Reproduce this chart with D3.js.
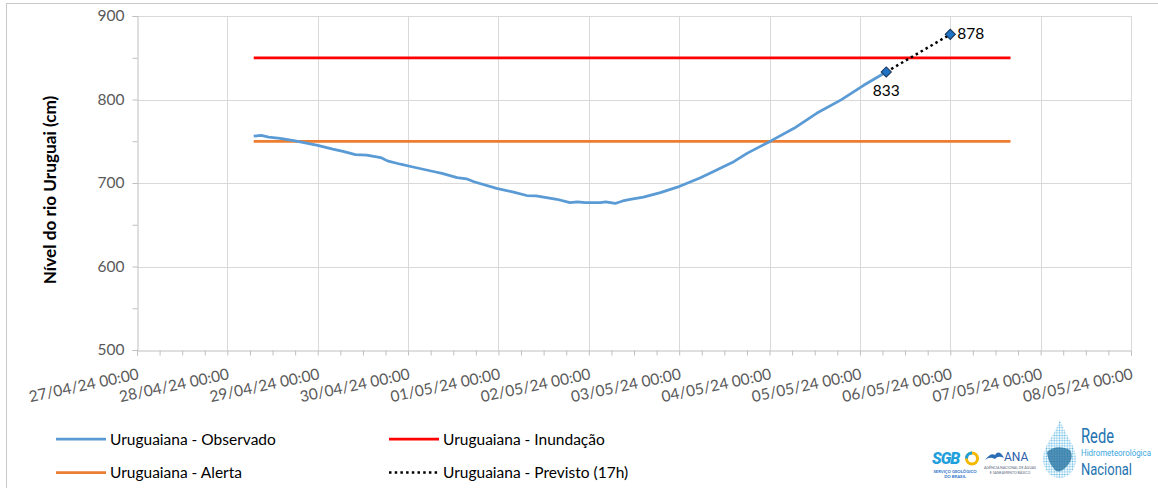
<!DOCTYPE html>
<html><head><meta charset="utf-8">
<script src="https://cdn.jsdelivr.net/npm/d3@7"></script>
<style>
html,body{margin:0;padding:0;background:#fff;}
svg{display:block;font-family:Lato,"Open Sans",sans-serif;}
</style></head>
<body>
<svg id="chart" width="1158" height="488"></svg>
<script>
// ---------- DATA ----------
const tickLabels = ["27/04/24 00:00","28/04/24 00:00","29/04/24 00:00","30/04/24 00:00","01/05/24 00:00","02/05/24 00:00","03/05/24 00:00","04/05/24 00:00","05/05/24 00:00","06/05/24 00:00","07/05/24 00:00","08/05/24 00:00"];
const yTicks = [500,600,700,800,900];
const yMinorTicks = [550,650,750,850];

const obsTimes = ["28/04/24 07:00","28/04/24 09:00","28/04/24 11:00","28/04/24 14:00","28/04/24 18:00","29/04/24 00:00","29/04/24 04:00","29/04/24 07:00","29/04/24 10:00","29/04/24 13:00","29/04/24 16:00","29/04/24 17:00","29/04/24 18:30","29/04/24 22:00","30/04/24 01:00","30/04/24 07:00","30/04/24 09:00","30/04/24 13:00","30/04/24 15:30","30/04/24 17:30","30/04/24 23:30","01/05/24 04:00","01/05/24 07:30","01/05/24 10:00","01/05/24 15:30","01/05/24 19:00","01/05/24 21:00","01/05/24 23:00","02/05/24 03:00","02/05/24 04:30","02/05/24 07:00","02/05/24 09:00","02/05/24 11:00","02/05/24 14:30","02/05/24 19:00","02/05/24 23:30","03/05/24 05:30","03/05/24 09:00","03/05/24 12:00","03/05/24 14:30","03/05/24 18:00","04/05/24 00:00","04/05/24 06:30","04/05/24 12:30","04/05/24 19:00","05/05/24 01:00","05/05/24 07:00"];
const obsValues = [756,757,755,753.5,750.5,745,740.5,737.5,734,733.5,731,730,726.5,722.5,719.5,713.5,711.5,706.5,705,701.5,693.5,689,685,684.5,680.5,676.5,677.5,676.5,676.5,677.5,675.5,678.5,680.5,683,688.5,695,706,713.5,720,725.5,735.5,749.5,765.5,783.5,799.5,817,833];

const forecastTimes = ["05/05/24 07:00","06/05/24 00:00"];
const forecastValues = [833,878];

const thresholdTimes = ["28/04/24 07:00","06/05/24 16:00"];
const alertValue = 750;
const floodValue = 850;

const seriesNames = ["Uruguaiana - Observado","Uruguaiana - Inundação","Uruguaiana - Alerta","Uruguaiana - Previsto (17h)"];
const yTitle = "Nível do rio Uruguai (cm)";

// ---------- SETUP ----------
const parse = d3.utcParse("%d/%m/%y %H:%M");
const svg = d3.select("#chart");
const L = 137, R = 1131, T = 16, B = 350;

const x = d3.scaleUtc().domain([parse(tickLabels[0]), parse(tickLabels[tickLabels.length-1])]).range([L, R]);
const y = d3.scaleLinear().domain([500, 900]).range([B, T]);

// outer border
svg.append("rect").attr("x",6.5).attr("y",3.5).attr("width",1200).attr("height",600)
  .attr("fill","none").attr("stroke","#c8c8c8").attr("stroke-width",1);

// gridlines
const dayDates = tickLabels.map(parse);
svg.append("g").selectAll("line").data(dayDates.slice(1)).join("line")
  .attr("x1",d=>Math.round(x(d))+0.5).attr("x2",d=>Math.round(x(d))+0.5)
  .attr("y1",T).attr("y2",B).attr("stroke","#d9d9d9").attr("stroke-width",1);
svg.append("g").selectAll("line").data(yTicks.slice(1)).join("line")
  .attr("x1",L).attr("x2",R)
  .attr("y1",d=>Math.round(y(d))+0.5).attr("y2",d=>Math.round(y(d))+0.5)
  .attr("stroke","#d9d9d9").attr("stroke-width",1);

// y axis
const yAxis = d3.axisLeft(y).tickValues(yTicks).tickSize(5).tickPadding(8);
const gy = svg.append("g").attr("transform",`translate(${L+0.5},0)`).call(yAxis);
gy.select(".domain").attr("stroke","#bfbfbf");
gy.selectAll(".tick line").attr("stroke","#bfbfbf");
gy.selectAll(".tick text").attr("fill","#595959").attr("font-size",15.5).attr("font-family","Lato, sans-serif");
const yMinor = d3.axisLeft(y).tickValues(yMinorTicks).tickSize(5).tickFormat("");
const gym = svg.append("g").attr("transform",`translate(${L+0.5},0)`).call(yMinor);
gym.select(".domain").remove();
gym.selectAll(".tick line").attr("stroke","#bfbfbf");

// x axis
const minorDates = d3.utcHour.every(6).range(dayDates[0], d3.utcHour.offset(dayDates[dayDates.length-1],1));
const xMinor = d3.axisBottom(x).tickValues(minorDates).tickSize(5).tickFormat("");
const gxm = svg.append("g").attr("transform",`translate(0,${B+0.5})`).call(xMinor);
gxm.select(".domain").attr("stroke","#bfbfbf");
gxm.selectAll(".tick line").attr("stroke","#bfbfbf");
const fmt = d3.utcFormat("%d/%m/%y %H:%M");
const xAxis = d3.axisBottom(x).tickValues(dayDates).tickSize(0).tickFormat(fmt);
const gx = svg.append("g").attr("transform",`translate(0,${B})`).call(xAxis);
gx.select(".domain").remove();
gx.selectAll(".tick text")
  .attr("fill","#595959").attr("font-size",15.5).attr("font-family","Lato, sans-serif")
  .attr("text-anchor","end").attr("dy",null).attr("y",null)
  .attr("transform","translate(2,29) rotate(-12)");

// y title
svg.append("text").attr("transform",`translate(56,${(T+B)/2+7}) rotate(-90)`)
  .attr("text-anchor","middle").attr("font-weight","bold").attr("font-size",17.2)
  .attr("fill","#000").text(yTitle);

// threshold lines
const thrT = thresholdTimes.map(parse);
svg.append("line").attr("x1",x(thrT[0])).attr("x2",x(thrT[1]))
  .attr("y1",y(floodValue)).attr("y2",y(floodValue))
  .attr("stroke","#FF0000").attr("stroke-width",2.75);
svg.append("line").attr("x1",x(thrT[0])).attr("x2",x(thrT[1]))
  .attr("y1",y(alertValue)).attr("y2",y(alertValue))
  .attr("stroke","#ED7D31").attr("stroke-width",2.75);

// observed
const obs = obsTimes.map((t,i)=>({t:parse(t), v:obsValues[i]}));
const line = d3.line().x(d=>x(d.t)).y(d=>y(d.v));
svg.append("path").datum(obs).attr("d",line).attr("fill","none")
  .attr("stroke","#5B9BD5").attr("stroke-width",2.75).attr("stroke-linejoin","round");

// forecast
const fc = forecastTimes.map((t,i)=>({t:parse(t), v:forecastValues[i]}));
svg.append("path").datum(fc).attr("d",line).attr("fill","none")
  .attr("stroke","#000").attr("stroke-width",2.5).attr("stroke-dasharray","2.5,3.2");

// markers
svg.append("g").selectAll("path").data(fc).join("path")
  .attr("transform",d=>`translate(${x(d.t)},${y(d.v)}) rotate(45)`)
  .attr("d",d3.symbol().type(d3.symbolSquare).size(52))
  .attr("fill","#1F72C4").attr("stroke","#1B3556").attr("stroke-width",1);

// data labels
svg.append("text").attr("x",x(fc[0].t)).attr("y",y(fc[0].v)+24)
  .attr("text-anchor","middle").attr("font-size",15.5).attr("fill","#000").text(fc[0].v);
svg.append("text").attr("x",x(fc[1].t)+7).attr("y",y(fc[1].v)+5)
  .attr("text-anchor","start").attr("font-size",15.5).attr("fill","#000").text(fc[1].v);

// legend
const legend = [
  {name:seriesNames[0], color:"#5B9BD5", dash:null, lx:56, ly:439},
  {name:seriesNames[1], color:"#FF0000", dash:null, lx:389, ly:439},
  {name:seriesNames[2], color:"#ED7D31", dash:null, lx:56, ly:472.5},
  {name:seriesNames[3], color:"#000000", dash:"2.5,3.2", lx:389, ly:472.5}
];
const lg = svg.append("g").selectAll("g").data(legend).join("g")
  .attr("transform",d=>`translate(${d.lx},${d.ly})`);
lg.append("line").attr("x1",0).attr("x2",50).attr("y1",0).attr("y2",0)
  .attr("stroke",d=>d.color).attr("stroke-width",d=>d.dash?2.5:2.75)
  .attr("stroke-dasharray",d=>d.dash);
lg.append("text").attr("x",54).attr("y",5.5).attr("font-size",15.5).attr("fill","#000").text(d=>d.name);

// logos (approximation)
const logo = svg.append("g");
// SGB
logo.append("text").attr("x",932).attr("y",464).attr("font-family","Roboto, sans-serif")
  .attr("font-weight","900").attr("font-style","italic").attr("font-size",16).attr("fill","#1FA0DC").attr("letter-spacing",-1).text("SGB");
logo.append("circle").attr("cx",972).attr("cy",458.5).attr("r",5.5).attr("fill","none")
  .attr("stroke","#F5B800").attr("stroke-width",3);
logo.append("path").attr("d","M966.5,458.5 A5.5,5.5 0 0 1 972,453").attr("fill","none").attr("stroke","#1FA0DC").attr("stroke-width",3);
logo.append("text").attr("x",955).attr("y",472.5).attr("text-anchor","middle").attr("font-size",4.2).attr("font-weight","bold").attr("fill","#1F72C4").text("SERVIÇO GEOLÓGICO");
logo.append("text").attr("x",955).attr("y",478).attr("text-anchor","middle").attr("font-size",4.2).attr("font-weight","bold").attr("fill","#1F72C4").text("DO BRASIL");
// ANA
logo.append("path").attr("d","M985,460 Q991,452 995,455 Q999,449 1004,458 Q998,455 995,459 Q990,456 985,460 Z").attr("fill","#2A6DB4");
logo.append("text").attr("x",1004).attr("y",461).attr("font-size",12).attr("fill","#2A5CA8").attr("font-family","Roboto, sans-serif").text("ANA");
logo.append("text").attr("x",1010).attr("y",469).attr("text-anchor","middle").attr("font-size",3.5).attr("fill","#5a6a80").text("AGÊNCIA NACIONAL DE ÁGUAS");
logo.append("text").attr("x",1010).attr("y",473.5).attr("text-anchor","middle").attr("font-size",3.5).attr("fill","#5a6a80").text("E SANEAMENTO BÁSICO");
// drop
const defs = svg.append("defs");
const pat = defs.append("pattern").attr("id","dots").attr("width",2.6).attr("height",2.6).attr("patternUnits","userSpaceOnUse");
pat.append("circle").attr("cx",1.3).attr("cy",1.3).attr("r",0.9).attr("fill","#3BA7DE");
logo.append("path").attr("d","M1060,420 C1066,436 1076,446 1076,459 C1076,470 1068,478 1060,478 C1051,478 1043,470 1043,459 C1043,446 1054,436 1060,420 Z")
  .attr("fill","url(#dots)").attr("opacity",0.8);
logo.append("path").attr("d","M1047,452 C1053,446 1062,446 1070,450 C1073,455 1072,461 1067,466 C1063,471 1058,473 1055,470 C1052,466 1048,462 1047,452 Z")
  .attr("fill","#1E6E9E").attr("opacity",0.75);
// Rede text
logo.append("text").attr("x",1081).attr("y",443).attr("font-family","Roboto, sans-serif").attr("font-size",21)
  .attr("fill","#1E73B0").attr("textLength",33).attr("lengthAdjust","spacingAndGlyphs").text("Rede");
logo.append("text").attr("x",1081).attr("y",456).attr("font-family","Roboto, sans-serif").attr("font-size",8.5)
  .attr("fill","#3BA7DE").attr("textLength",70).attr("lengthAdjust","spacingAndGlyphs").text("Hidrometeorológica");
logo.append("text").attr("x",1081).attr("y",475).attr("font-family","Roboto, sans-serif").attr("font-size",17)
  .attr("fill","#1E73B0").attr("textLength",51).attr("lengthAdjust","spacingAndGlyphs").text("Nacional");
</script>
</body></html>
